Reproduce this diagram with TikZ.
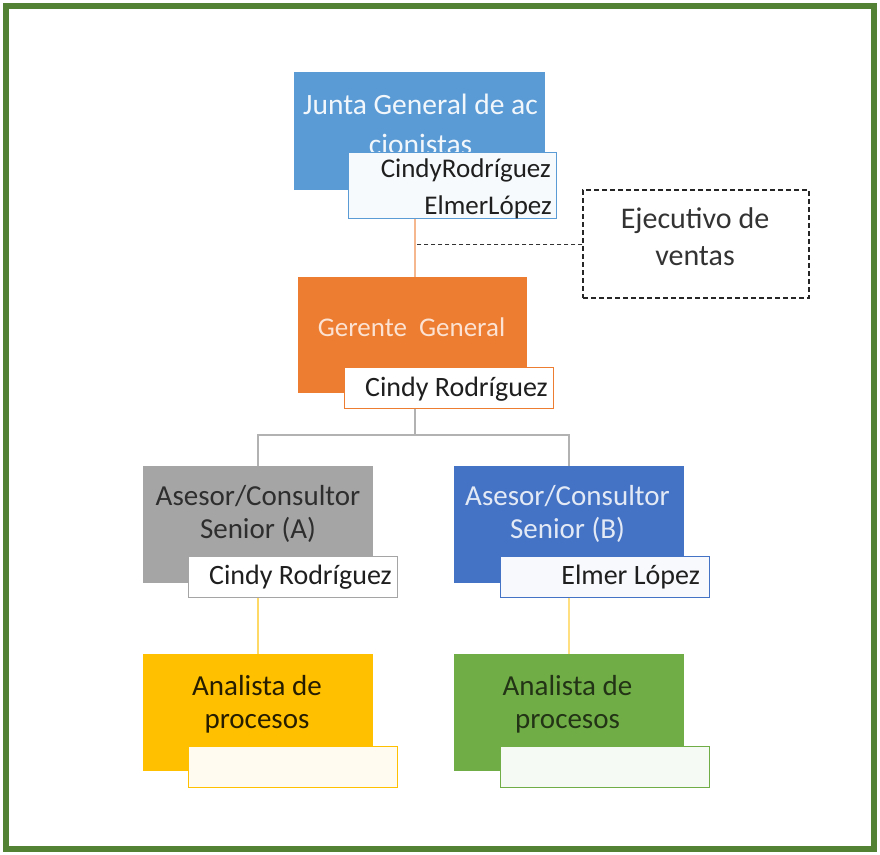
\documentclass[tikz,border=0pt]{standalone}
\usepackage{fontspec}
\setmainfont{Carlito}
\definecolor{frame}{HTML}{548235}
\definecolor{cBlueL}{HTML}{5B9BD5}
\definecolor{cOrange}{HTML}{ED7D31}
\definecolor{cGray}{HTML}{A5A5A5}
\definecolor{cBlueD}{HTML}{4472C4}
\definecolor{cGold}{HTML}{FFC000}
\definecolor{cGreen}{HTML}{70AD47}
\begin{document}
\begin{tikzpicture}[x=1pt,y=-1pt,
  panel/.style={rectangle, inner sep=0pt, minimum width=#1},
  mainbox/.style={panel=230, minimum height=117},
  subbox/.style={rectangle, inner sep=0pt, minimum width=209, minimum height=41, line width=1pt},
  lbl/.style={inner sep=0pt, align=center, font=\fontsize{29}{33}\selectfont},
  person/.style={inner sep=0pt, anchor=east, text=black!88, font=\fontsize{28}{30}\selectfont},
  link/.style={line width=1.6pt}]
\useasboundingbox (0,0) rectangle (880,854);
\draw[frame, line width=6pt] (5.5,5.5) rectangle (873.5,848.5);

% top level: board of shareholders
\node[panel=251, minimum height=118, fill=cBlueL] (junta) at (419.5,131) {};
\node[lbl, text=white!92!cBlueL, font=\fontsize{29.5}{40}\selectfont] (juntaT) at (420.5,124) {Junta General de ac\\cionistas};
\node[subbox, minimum width=208, minimum height=66, draw=cBlueL, fill=cBlueL!5!white] (jsub) at (452,185) {};
\node[person, font=\fontsize{27}{30}\selectfont] (jn1) at (551,170) {CindyRodríguez};
\node[person, font=\fontsize{27}{30}\selectfont] (jn2) at (552,207) {ElmerLópez};

% advisory position
\node[rectangle, draw=black!85, dashed, line width=1.2pt, dash pattern=on 5pt off 3pt, minimum width=226, minimum height=108] (ev) at (696,244) {};
\node[lbl, text=black!80, font=\fontsize{30}{37}\selectfont] (evT) at (695,237) {Ejecutivo de\\ventas};

% general manager
\node[panel=229, minimum height=116, fill=cOrange] (gg) at (412.5,335) {};
\node[lbl, text=cOrange!22!white, font=\fontsize{27}{33}\selectfont] (ggT) at (411.5,327) {Gerente\ \ General};
\node[subbox, draw=cOrange, fill=white] (gsub) at (448.5,387.5) {};
\node[person] (gn) at (548,389) {Cindy Rodríguez};

% senior consultants
\node[mainbox, fill=cGray] (asA) at (258,524.5) {};
\node[lbl, text=black!82] (asAT) at (258,514) {Asesor/Consultor\\Senior (A)};
\node[subbox, draw=cGray, fill=white] (asAsub) at (293,576.5) {};
\node[person] (asAn) at (392,577) {Cindy Rodríguez};

\node[mainbox, fill=cBlueD] (asB) at (569,524.5) {};
\node[lbl, text=cBlueD!15!white] (asBT) at (567.5,514) {Asesor/Consultor\\Senior (B)};
\node[subbox, draw=cBlueD, fill=cBlueD!4!white] (asBsub) at (604.5,576.5) {};
\node[person] (asBn) at (700,577) {Elmer López};

% process analysts
\node[mainbox, fill=cGold] (anA) at (258,712.5) {};
\node[lbl, text=black!75!cGold!60!black] (anAT) at (257,704) {Analista de\\procesos};
\node[subbox, draw=cGold, fill=cGold!6!white] (anAsub) at (293,766.5) {};

\node[mainbox, fill=cGreen] (anB) at (569,712.5) {};
\node[lbl, text=cGreen!30!black] (anBT) at (567.5,704) {Analista de\\procesos};
\node[subbox, draw=cGreen, fill=cGreen!6!white] (anBsub) at (604.5,766.5) {};

% connectors
\coordinate (spine) at (415,0);
\coordinate (bar) at (415,435);
\draw[link, draw=cOrange!55!white] (jsub.south -| spine) -- (gg.north -| spine);
\draw[dashed, line width=1pt, dash pattern=on 4pt off 3pt, black!80] (ev.west) -- (ev.west -| spine);
\draw[link, draw=black!30] (gsub.south -| spine) -- (bar);
\draw[link, draw=black!30] (asA.north) |- (bar) -| (asB.north);
\draw[link, draw=cGold!60!white] (asAsub.south -| asA.south) -- (anA.north);
\draw[link, draw=cGold!50!white] (asBsub.south -| asB.south) -- (anB.north);
\end{tikzpicture}
\end{document}
